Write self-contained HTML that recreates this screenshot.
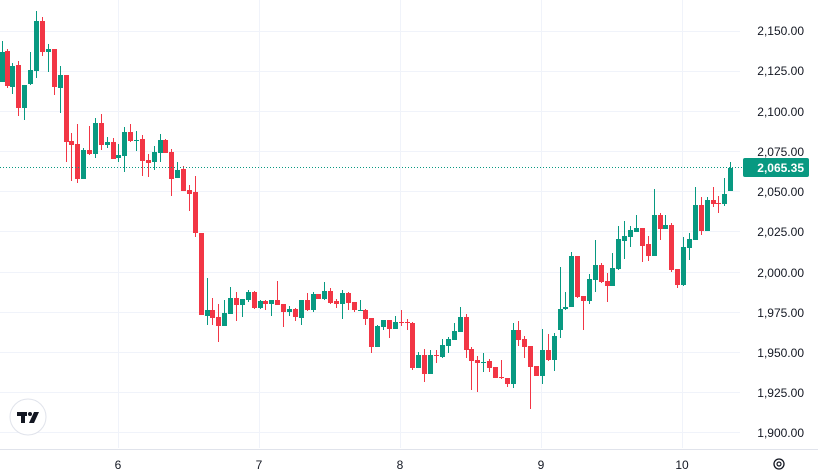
<!DOCTYPE html>
<html><head><meta charset="utf-8"><style>
html,body{margin:0;padding:0;background:#fff;width:818px;height:476px;overflow:hidden}
svg{display:block;font-family:"Liberation Sans",sans-serif}
</style></head><body>
<svg id="c" width="818" height="476" viewBox="0 0 818 476" xmlns="http://www.w3.org/2000/svg">
<g stroke="#f0f3fa" stroke-width="1">
<line x1="0" y1="31.5" x2="740" y2="31.5"/><line x1="0" y1="71.5" x2="740" y2="71.5"/><line x1="0" y1="111.5" x2="740" y2="111.5"/><line x1="0" y1="151.5" x2="740" y2="151.5"/><line x1="0" y1="191.5" x2="740" y2="191.5"/><line x1="0" y1="231.5" x2="740" y2="231.5"/><line x1="0" y1="272.5" x2="740" y2="272.5"/><line x1="0" y1="312.5" x2="740" y2="312.5"/><line x1="0" y1="352.5" x2="740" y2="352.5"/><line x1="0" y1="392.5" x2="740" y2="392.5"/><line x1="0" y1="432.5" x2="740" y2="432.5"/>
<line x1="118.5" y1="0" x2="118.5" y2="448"/><line x1="259.5" y1="0" x2="259.5" y2="448"/><line x1="400.5" y1="0" x2="400.5" y2="448"/><line x1="541.5" y1="0" x2="541.5" y2="448"/><line x1="682.5" y1="0" x2="682.5" y2="448"/>
</g>
<line x1="0" y1="449.5" x2="818" y2="449.5" stroke="#e0e3eb"/>
<g id="cd"></g>
<line x1="0" y1="167.5" x2="742" y2="167.5" stroke="#089981" stroke-width="1" stroke-dasharray="1,2"/>
<g font-size="12" fill="#131722" text-anchor="end">
<text x="804" y="35">2,150.00</text><text x="804" y="75">2,125.00</text><text x="804" y="116">2,100.00</text><text x="804" y="156">2,075.00</text><text x="804" y="196">2,050.00</text><text x="804" y="236">2,025.00</text><text x="804" y="277">2,000.00</text><text x="804" y="317">1,975.00</text><text x="804" y="357">1,950.00</text><text x="804" y="397">1,925.00</text><text x="804" y="437">1,900.00</text>
</g>
<rect x="743" y="158" width="66" height="19" rx="2" fill="#089981"/>
<text x="804" y="172" font-size="12" font-weight="bold" fill="#fff" text-anchor="end">2,065.35</text>
<g font-size="12" fill="#131722" text-anchor="middle">
<text x="118" y="469">6</text><text x="259" y="469">7</text><text x="400" y="469">8</text><text x="541" y="469">9</text><text x="682" y="469">10</text>
</g>
<circle cx="28" cy="417" r="18" fill="#fff" stroke="#e0e3eb"/>
<g fill="#131722">
<rect x="17" y="412" width="10" height="4"/><rect x="21" y="412" width="4" height="11"/>
<circle cx="30" cy="414" r="2"/>
<polygon points="34,412 39,412 34,423 29,423"/>
</g>
<circle cx="779" cy="464" r="5" fill="none" stroke="#131722" stroke-width="1.3"/>
<circle cx="779" cy="464" r="2" fill="none" stroke="#131722" stroke-width="1.2"/>
</svg>
<script>
var G="#089981",R="#F23645";
var d=[
[2,1,52,82,41,82],[7,0,51,86,49,88],[12,1,66,87,63,94],[18,0,65,108,61,116],[24,1,85,108,85,120],[30,1,70,84,52,85],[36,1,21,71,11,78],[42,0,21,52,17,56],[48,1,49,52,44,72],[54,0,49,87,49,95],[60,1,75,88,66,113],[66,0,75,142,75,162],[71,0,141,145,133,181],[77,0,144,179,124,183],[83,1,150,179,148,179],[89,0,150,154,126,155],[95,1,123,154,118,158],[101,0,123,145,114,150],[107,1,142,145,137,148],[113,0,142,159,138,159],[118,1,155,158,144,162],[124,1,132,156,127,172],[130,0,132,141,124,142],[136,1,140,141,131,151],[142,0,139,161,135,176],[148,0,160,163,154,177],[154,1,152,162,146,170],[160,1,140,153,134,162],[165,0,140,153,139,153],[171,0,152,179,149,196],[177,1,170,178,162,178],[183,0,169,191,166,191],[189,0,190,194,185,211],[195,0,192,233,176,237],[201,0,233,315,233,315],
[207,1,310,316,278,325],[212,0,310,318,298,325],[218,0,317,326,304,342],[224,1,313,326,300,326],[230,1,298,314,287,314],[236,0,298,305,292,321],[242,1,299,305,299,317],[248,1,292,300,290,302],[254,0,292,308,291,309],[260,1,301,308,300,309],[265,0,301,304,300,310],[271,1,300,304,300,316],[277,0,300,305,281,305],[283,0,304,312,304,327],[289,1,309,312,306,316],[295,0,309,317,308,321],[301,1,300,318,300,325],[307,0,300,310,293,311],[313,1,294,310,292,312],[318,0,294,299,294,299],[324,1,291,299,282,300],[330,0,291,303,288,304],[336,0,301,304,299,308],[342,1,293,304,290,319],[348,0,293,303,292,310],[354,0,302,310,302,312],[360,1,310,311,300,311],[365,0,310,319,309,325],[371,0,318,347,318,353],[377,1,326,347,325,347],[383,1,320,327,320,330],[389,0,320,329,320,338],[395,1,322,329,316,329],[401,0,322,323,310,326],[407,0,322,323,319,330],
[412,0,323,368,322,370],[418,1,355,368,352,368],[424,0,355,374,349,382],[430,1,355,374,350,374],[436,0,355,356,350,363],[442,1,345,357,339,358],[448,1,339,346,337,353],[454,1,331,340,323,340],[460,1,317,332,307,332],[466,0,317,350,314,358],[471,0,349,361,347,390],[477,0,360,363,356,392],[483,1,362,363,353,372],[489,0,361,368,359,372],[495,0,367,378,367,378],[501,0,377,378,360,379],[507,0,378,384,378,387],[513,1,330,384,323,388],[518,0,330,340,321,346],[524,0,339,347,336,358],[530,0,346,367,346,409],[536,0,366,376,366,376],[542,1,350,376,329,384],[548,0,350,360,334,361],[554,1,336,360,333,371],
[560,1,309,330,267,338],[565,1,307,309,292,310],[571,1,256,307,252,307],[577,0,256,297,256,298],[583,0,296,301,296,330],[589,1,279,301,274,304],[595,1,265,280,240,292],[601,0,265,282,263,283],[607,0,281,286,273,302],[612,1,268,286,253,286],[618,1,239,269,226,270],[624,1,236,241,221,259],[630,1,230,237,226,247],[636,1,228,232,215,232],[642,0,228,246,228,262],[648,0,244,256,236,261],[654,1,215,256,189,256],[660,0,215,229,213,240],[665,1,225,229,215,229],[671,0,225,270,223,272],[677,0,269,285,269,288],[683,1,247,285,237,286],[689,1,239,248,233,260],[695,1,205,240,187,240],[701,0,205,231,197,235],[707,1,200,231,197,231],[713,0,200,204,187,207],[718,0,203,204,196,213],[724,1,194,204,178,206],[730,1,168,191,162,191]
];
var s="";
d.forEach(function(c){var col=c[1]?G:R;var x=c[0];
s+='<rect x="'+(x)+'" y="'+c[4]+'" width="1" height="'+Math.max(1,c[5]-c[4])+'" fill="'+col+'"/>';
s+='<rect x="'+(x-2)+'" y="'+c[2]+'" width="5" height="'+Math.max(1,c[3]-c[2])+'" fill="'+col+'"/>';});
document.getElementById("cd").innerHTML=s;
</script>
</body></html>
